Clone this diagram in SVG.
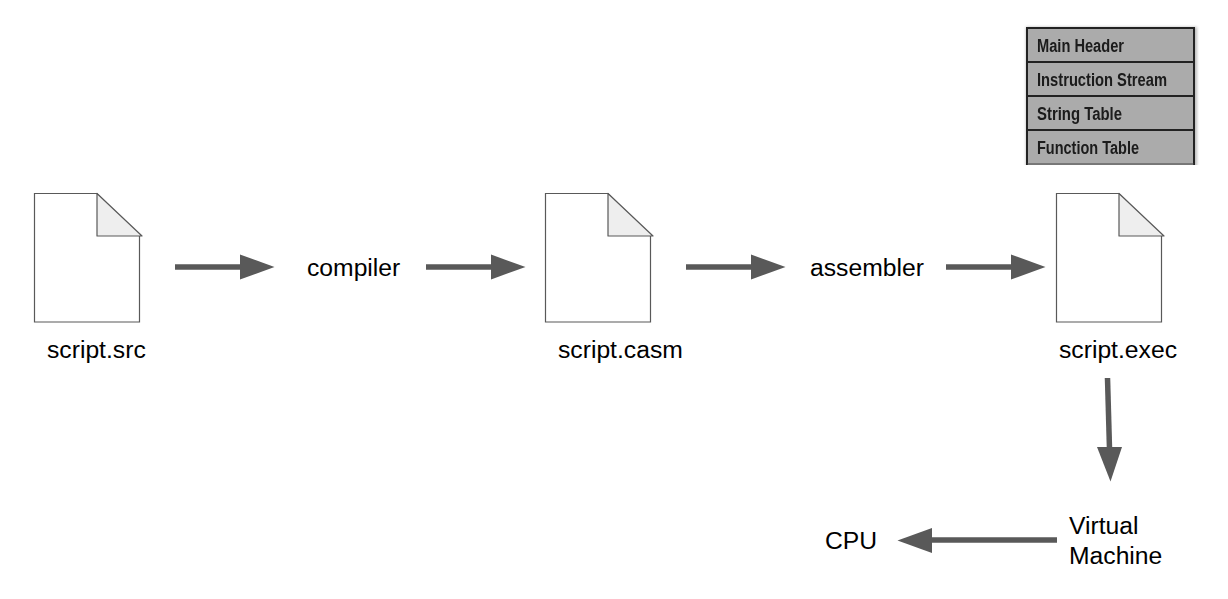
<svg xmlns="http://www.w3.org/2000/svg" width="1228" height="599" viewBox="0 0 1228 599">
<style>
text{font-family:"Liberation Sans",Arial,sans-serif;font-size:24.7px;fill:#000}
.body{fill:#fff;stroke:#595959;stroke-width:1.2}
.fold{fill:#eeeeee;stroke:#595959;stroke-width:1.2;stroke-linejoin:round}
.c{stroke:#595959;stroke-width:5.5;fill:none}
.h{fill:#595959}
#table text{font-size:17.5px;font-weight:700;fill:#1a1a1a}
</style>
<defs>
<filter id="b" x="-5%" y="-5%" width="110%" height="110%"><feGaussianBlur stdDeviation="0.55"/></filter>
<filter id="s" x="-5%" y="-5%" width="110%" height="110%"><feGaussianBlur stdDeviation="1.6"/></filter>
<clipPath id="cut"><rect x="1015" y="15" width="190" height="150"/></clipPath>
<g id="doc">
<path class="body" d="M0.5 0.5H63L105.500 43V129H0.5Z"/>
<path class="fold" d="M63 0.5V43H108Z"/>
</g>
</defs>
<g id="table" clip-path="url(#cut)">
<rect x="1026" y="27" width="171" height="142" fill="#777" opacity=".5" filter="url(#s)"/>
<g filter="url(#b)">
<path d="M1027 28H1194V170H1027Z" fill="#ababab"/>
<path d="M1027 170V28H1194V170M1027 62H1194M1027 96H1194M1027 130H1194" fill="none" stroke="#222" stroke-width="2"/>
<path d="M1027 164H1194" stroke="#444" stroke-width="1" fill="none"/>
<text x="1037" y="52" textLength="87" lengthAdjust="spacingAndGlyphs">Main Header</text>
<text x="1037" y="86" textLength="130" lengthAdjust="spacingAndGlyphs">Instruction Stream</text>
<text x="1037" y="120" textLength="85" lengthAdjust="spacingAndGlyphs">String Table</text>
<text x="1037" y="154" textLength="102" lengthAdjust="spacingAndGlyphs">Function Table</text>
</g>
</g>
<g id="doc-src"><use href="#doc" x="34" y="193"/><text x="47" y="358">script.src</text></g>
<g id="doc-casm"><use href="#doc" x="545" y="193"/><text x="558" y="358">script.casm</text></g>
<g id="doc-exec"><use href="#doc" x="1056" y="193"/><text x="1059" y="358">script.exec</text></g>
<g id="compiler"><text x="307" y="276">compiler</text></g>
<g id="assembler"><text x="810" y="276">assembler</text></g>
<g id="vm"><text x="1069" y="534">Virtual</text><text x="1069" y="564">Machine</text></g>
<g id="cpu"><text x="825" y="549">CPU</text></g>
<g id="connectors">
<path class="c" d="M175 267H242"/><path class="h" d="M240 254.500L274.500 267L240 279.500Z"/>
<path class="c" d="M426 267H493"/><path class="h" d="M491 254.500L525.500 267L491 279.500Z"/>
<path class="c" d="M686 267H753"/><path class="h" d="M751 254.500L785.500 267L751 279.500Z"/>
<path class="c" d="M946 267H1013"/><path class="h" d="M1011 254.500L1045.500 267L1011 279.500Z"/>
<path class="c" d="M1107.500 378L1109.500 449"/><path class="h" d="M1097 447L1122 447L1110.500 481.500Z"/>
<path class="c" d="M1057 540H930"/><path class="h" d="M932 528L897.500 540.500L932 553Z"/>
</g>
</svg>
